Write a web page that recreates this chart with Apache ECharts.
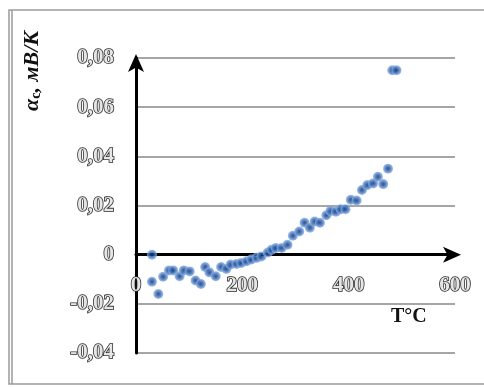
<!DOCTYPE html>
<html>
<head>
<meta charset="utf-8">
<script src="https://cdn.jsdelivr.net/npm/echarts@6/dist/echarts.min.js"></script>
<style>
  html, body { margin: 0; padding: 0; background: #fff; }
  #chart { width: 484px; height: 387px; }
</style>
</head>
<body>
<div id="chart"></div>
<script>
// Temperature, °C
const temperature = [
  30, 30, 42, 51, 62, 70, 82, 90, 101, 112, 122, 130, 138, 150, 160, 170,
  178, 189, 198, 208, 217, 227, 236, 248, 255, 263, 274, 285, 295, 307,
  317, 327, 336, 346, 358, 366, 376, 385, 394, 404, 415, 425, 435, 446,
  455, 465, 474, 482, 490
];
// Seebeck coefficient, mV/K
const alphaC = [
  0.0, -0.011, -0.016, -0.009, -0.0064, -0.0064, -0.0088, -0.0064, -0.0068,
  -0.0105, -0.0119, -0.005, -0.0072, -0.0088, -0.005, -0.0058, -0.004,
  -0.0038, -0.0034, -0.0027, -0.002, -0.0013, -0.0007, 0.0009, 0.002,
  0.0027, 0.0027, 0.004, 0.0077, 0.0094, 0.013, 0.011, 0.0135, 0.013,
  0.016, 0.0178, 0.0175, 0.0185, 0.0185, 0.0223, 0.022, 0.0263, 0.0283,
  0.029, 0.0317, 0.0287, 0.035, 0.075, 0.075
];
const xTicks = [0, 200, 400, 600];
const yTicks = [-0.04, -0.02, 0, 0.02, 0.04, 0.06, 0.08];

const points = temperature.map((t, i) => [t, alphaC[i]]);

const outlined = {
  color: '#e6e6e6',
  textBorderColor: '#2a2a2a',
  textBorderWidth: 1.6,
  fontFamily: 'Liberation Serif',
  fontWeight: 'bold',
  fontSize: 21
};

const chart = echarts.init(document.getElementById('chart'), null, { renderer: 'canvas' });
chart.setOption({
  animation: false,
  backgroundColor: '#fff',
  grid: { left: 136, right: 29, top: 58, bottom: 34, outerBoundsMode: 'none' },
  xAxis: {
    type: 'value',
    min: xTicks[0],
    max: xTicks[xTicks.length - 1],
    interval: 200,
    axisLine: {
      onZero: true,
      lineStyle: { color: '#000', width: 3 },
      symbol: ['none', 'arrow'],
      symbolSize: [12, 18],
      symbolOffset: [0, 6]
    },
    axisTick: { show: false },
    splitLine: { show: false },
    // labels sit just under the zero line, well above the plot bottom
    axisLabel: Object.assign({ margin: -78, formatter: v => String(v) }, outlined)
  },
  yAxis: {
    type: 'value',
    min: yTicks[0],
    max: yTicks[yTicks.length - 1],
    interval: 0.02,
    axisLine: {
      onZero: false,
      lineStyle: { color: '#000', width: 3 },
      symbol: ['none', 'arrow'],
      symbolSize: [12, 18],
      symbolOffset: [0, 4]
    },
    axisTick: { show: false },
    splitLine: { show: true, lineStyle: { color: '#a6a6a6', width: 2 } },
    axisLabel: Object.assign({
      margin: 22,
      formatter: v => (Math.abs(v) < 1e-9 ? '0' : v.toFixed(2).replace('.', ','))
    }, outlined)
  },
  series: [{
    type: 'scatter',
    data: points,
    symbol: 'circle',
    symbolSize: 10,
    itemStyle: {
      color: {
        type: 'radial', x: 0.5, y: 0.5, r: 0.5,
        colorStops: [
          { offset: 0, color: '#0d2455' },
          { offset: 0.45, color: '#2a5fb0' },
          { offset: 1, color: '#8fb4e6' }
        ]
      }
    },
    z: 5
  }],
  graphic: [
    {
      type: 'rect',
      shape: { x: 9, y: 10, width: 480, height: 374 },
      style: { fill: 'none', stroke: '#9a9a9a', lineWidth: 1.5 },
      silent: true
    },
    {
      type: 'line',
      shape: { x1: 12, y1: 10, x2: 12, y2: 384 },
      style: { stroke: '#9a9a9a', lineWidth: 1.5 },
      silent: true
    },
    {
      type: 'text',
      x: 21, y: 111,
      rotation: Math.PI / 2,
      style: {
        text: 'α{s|c}, мВ/К',
        fill: '#111',
        font: 'bold italic 22px "Liberation Serif"',
        rich: {
          s: { fontSize: 14, fontWeight: 'bold', fontFamily: 'Liberation Serif', verticalAlign: 'bottom', padding: [8, 0, 0, 0], fill: '#111' }
        }
      },
      silent: true
    },
    {
      type: 'text',
      x: 391, y: 307,
      style: {
        text: 'T°C',
        fill: '#111',
        font: 'bold 20px "Liberation Serif"'
      },
      silent: true
    }
  ]
});
</script>
</body>
</html>
